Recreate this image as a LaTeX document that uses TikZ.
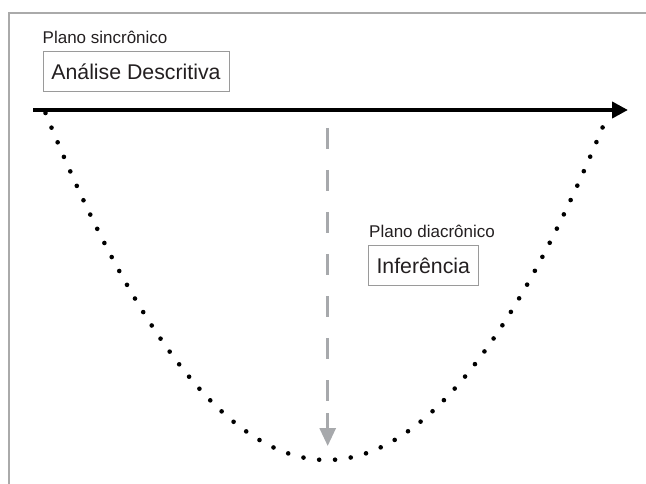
\documentclass[tikz,border=0pt]{standalone}
\usepackage{fontspec}
\setmainfont{Liberation Sans}
\usetikzlibrary{arrows.meta}
\definecolor{framegray}{HTML}{AAAAAA}
\definecolor{boxgray}{HTML}{9A9A9A}
\definecolor{dashgray}{HTML}{A7A9AC}
\definecolor{txt}{HTML}{231F20}
\tikzset{
  lbl/.style={anchor=base west, inner sep=0pt, text=txt, font=\fontsize{17}{20}\selectfont},
  boxed/.style={draw=boxgray, line width=1pt, inner sep=0pt, text=txt, font=\fontsize{21.3}{25}\selectfont},
  axis/.style={line width=4pt, -{Triangle[length=16pt,width=16pt]}},
  dots/.style={line width=4.6pt, line cap=round, dash pattern=on 0pt off 15.86pt},
  dashline/.style={dashgray, line width=3pt, dash pattern=on 21pt off 21pt},
  dashtip/.style={dashgray, line width=3pt, -{Triangle[length=18pt,width=16pt]}},
}
\begin{document}
\begin{tikzpicture}[x=1pt,y=-1pt]
\useasboundingbox (0,0) rectangle (646,484);
% frame
\draw[framegray, line width=2pt] (9,485) -- (9,13) -- (647,13);
% labels and boxes
\node[lbl] (ps) at (42.5,43.5) {Plano sincrônico};
\node[boxed, minimum width=186pt, minimum height=40pt] (ad) at (136,72) {Análise Descritiva};
\node[lbl] (pd) at (369,238) {Plano diacrônico};
\node[boxed, minimum width=110pt, minimum height=39pt] (inf) at (423.3,265.5) {Inferência};
% axis
\coordinate (axL) at (33,110);
\coordinate (axR) at (628,110);
\draw[axis] (axL) -- (axR);
% dotted parabola
\coordinate (pL) at (45.5,113);
\coordinate (c1) at (233.17,575.67);
\coordinate (c2) at (420.83,575.67);
\coordinate (pR) at (608.5,113);
\draw[dots] (pL) .. controls (c1) and (c2) .. (pR);
% dashed arrow
\coordinate (dA) at (327.7,128);
\coordinate (dB) at (327.7,401);
\coordinate (dC) at (327.7,413);
\coordinate (dD) at (327.7,446);
\draw[dashline] (dA) -- (dB);
\draw[dashtip] (dC) -- (dD);
\end{tikzpicture}
\end{document}
